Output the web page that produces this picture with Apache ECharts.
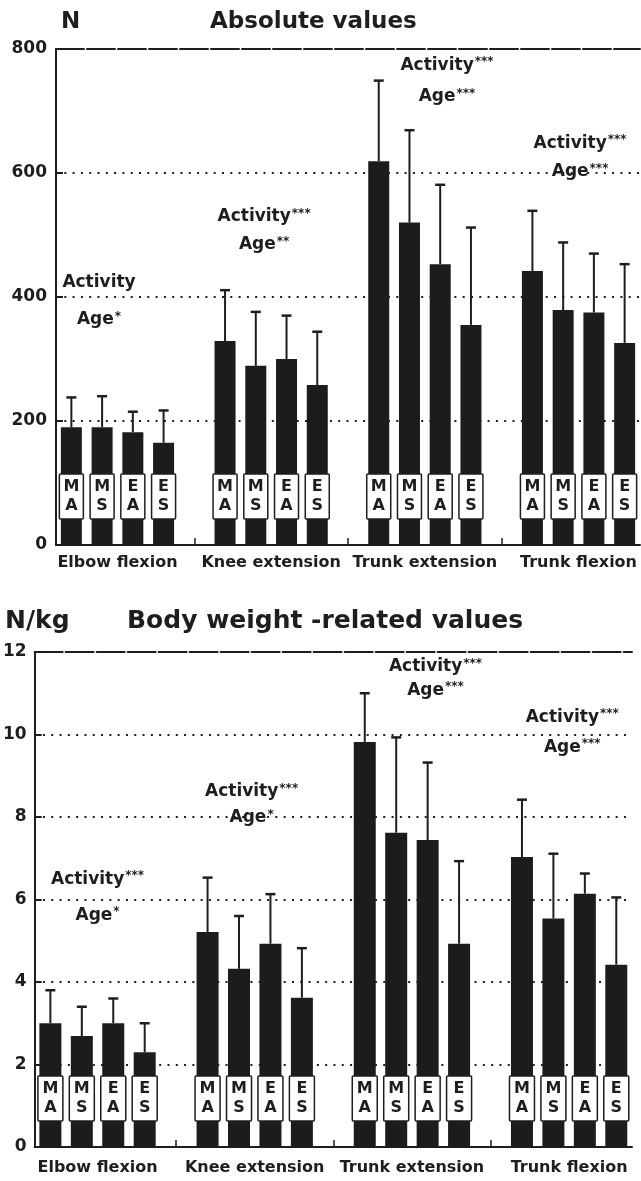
<!DOCTYPE html>
<html>
<head>
<meta charset="utf-8">
<script src="https://cdn.jsdelivr.net/npm/echarts@6/dist/echarts.min.js"></script>
<style>html,body{margin:0;padding:0;background:#fff}#c{width:641px;height:1181px}</style>
</head>
<body>
<div id="c"></div>
<script>
// ---- data ----
const categories = ['Elbow flexion', 'Knee extension', 'Trunk extension', 'Trunk flexion'];
const groupCodes = [['M', 'A'], ['M', 'S'], ['E', 'A'], ['E', 'S']];

// Absolute values (N): mean and mean+SD per category, groups MA, MS, EA, ES
const absMean = [[190, 190, 182, 165], [329, 289, 300, 258], [619, 520, 453, 355], [442, 379, 375, 326]];
const absSDTop = [[238, 240, 215, 217], [411, 376, 370, 344], [749, 669, 581, 512], [539, 488, 470, 453]];
const absTicks = [0, 200, 400, 600, 800];

// Body weight-related values (N/kg)
const bwMean = [[3.0, 2.69, 3.0, 2.3], [5.21, 4.32, 4.93, 3.62], [9.82, 7.62, 7.44, 4.93], [7.03, 5.54, 6.14, 4.42]];
const bwSDTop = [[3.8, 3.4, 3.6, 3.0], [6.53, 5.6, 6.13, 4.82], [11.0, 9.93, 9.32, 6.93], [8.42, 7.11, 6.63, 6.05]];
const bwTicks = [0, 2, 4, 6, 8, 10, 12];

// Significance annotations
const absActivity = ['Activity', 'Activity***', 'Activity***', 'Activity***'];
const absAge = ['Age*', 'Age**', 'Age***', 'Age***'];
const absNoteX = [1.4, 6.77, 12.72, 17.05];
const absNoteActY = [423, 529, 774, 648];
const absNoteAgeY = [363, 484, 723, 602];

const bwActivity = ['Activity***', 'Activity***', 'Activity***', 'Activity***'];
const bwAge = ['Age*', 'Age*', 'Age***', 'Age***'];
const bwNoteX = [2.0, 6.9, 12.75, 17.1];
const bwNoteActY = [6.49, 8.62, 11.65, 10.42];
const bwNoteAgeY = [5.62, 7.99, 11.07, 9.69];

// ---- helpers ----
const FONT = 'DejaVu Sans';
const INK = '#1e1e1e';
const SLOTS = 19; // 4 bars + 1 gap per category
function slotX(g, i) { return g * 5 + i + 0.5; }

function barData(mean) {
  const out = [];
  mean.forEach((arr, g) => arr.forEach((v, i) => out.push([slotX(g, i), v])));
  return out;
}
function errData(mean, top) {
  const out = [];
  mean.forEach((arr, g) => arr.forEach((v, i) => out.push([slotX(g, i), v, top[g][i]])));
  return out;
}
function boxData(mean) {
  const out = [];
  mean.forEach((arr, g) => arr.forEach((v, i) => out.push([slotX(g, i), i])));
  return out;
}
function noteData(xs, ys) {
  return xs.map((x, k) => [x, ys[k], k]);
}
function richNote(t) {
  const m = t.match(/^([^*]*)(\**)$/);
  return '{a|' + m[1] + '}' + (m[2] ? '{s|' + m[2] + '}' : '');
}

function xAxes(grid) {
  return [
    {
      gridIndex: grid, type: 'value', min: 0, max: SLOTS, position: 'bottom',
      splitLine: { show: false },
      axisLine: { show: true, onZero: false, lineStyle: { color: INK, width: 2 } },
      axisTick: { show: true, inside: true, length: 7, customValues: [4.5, 9.5, 14.5], lineStyle: { color: INK, width: 1.5 } },
      axisLabel: {
        customValues: [2, 7, 12, 17],
        formatter: v => categories[Math.round((v - 2) / 5)] || '',
        color: INK, fontFamily: FONT, fontWeight: 'bold', fontSize: 16, margin: grid === 0 ? 10 : 13
      }
    },
    {
      gridIndex: grid, type: 'value', min: 0, max: SLOTS, position: 'top',
      splitLine: { show: false }, axisTick: { show: false }, axisLabel: { show: false },
      axisLine: { show: true, onZero: false, lineStyle: { color: INK, width: 2, type: [28, 3] } }
    }
  ];
}
function yAxis(grid, ticks, margin) {
  return {
    gridIndex: grid, type: 'value', min: ticks[0], max: ticks[ticks.length - 1],
    interval: ticks[1] - ticks[0],
    axisLine: { show: true, onZero: false, lineStyle: { color: INK, width: 2 } },
    axisTick: { show: true, inside: true, length: 7, lineStyle: { color: INK, width: 2 } },
    axisLabel: { color: INK, fontFamily: FONT, fontWeight: 'bold', fontSize: 17, margin: margin },
    splitLine: { show: true, showMinLine: false, showMaxLine: false, lineStyle: { color: INK, width: 1.8, type: [2, 6.3] } }
  };
}

function errSeries(xi, yi, mean, top) {
  return {
    type: 'custom', xAxisIndex: xi, yAxisIndex: yi, z: 3,
    data: errData(mean, top),
    encode: { x: 0, y: [1, 2] },
    renderItem: (params, api) => {
      const x = api.value(0), m = api.value(1), t = api.value(2);
      const p0 = api.coord([x, m]), p1 = api.coord([x, t]);
      return {
        type: 'group', children: [
          { type: 'line', shape: { x1: p0[0], y1: p0[1], x2: p1[0], y2: p1[1] }, style: { stroke: INK, lineWidth: 2 } },
          { type: 'line', shape: { x1: p1[0] - 5, y1: p1[1], x2: p1[0] + 5, y2: p1[1] }, style: { stroke: INK, lineWidth: 2.5 } }
        ]
      };
    }
  };
}
function boxSeries(xi, yi, mean, w) {
  return {
    type: 'custom', xAxisIndex: xi, yAxisIndex: yi, z: 4,
    data: boxData(mean),
    encode: { x: 0 },
    renderItem: (params, api) => {
      const x = api.value(0), code = groupCodes[api.value(1)];
      const p = api.coord([x, 0]);
      return {
        type: 'group', children: [
          { type: 'rect', shape: { x: p[0] - w / 2, y: p[1] - 71, width: w, height: 45, r: 1 }, style: { fill: '#fff', stroke: INK, lineWidth: 1.5 } },
          { type: 'text', style: { x: p[0], y: p[1] - 58, text: code[0], align: 'center', verticalAlign: 'middle', fill: INK, font: 'bold 16px "DejaVu Sans"' } },
          { type: 'text', style: { x: p[0], y: p[1] - 39, text: code[1], align: 'center', verticalAlign: 'middle', fill: INK, font: 'bold 16px "DejaVu Sans"' } }
        ]
      };
    }
  };
}
function noteSeries(xi, yi, xs, ys, texts) {
  return {
    type: 'custom', xAxisIndex: xi, yAxisIndex: yi, z: 5,
    data: noteData(xs, ys),
    encode: { x: 0, y: 1 },
    renderItem: (params, api) => {
      const p = api.coord([api.value(0), api.value(1)]);
      return {
        type: 'text',
        style: {
          x: p[0], y: p[1], align: 'center', verticalAlign: 'middle',
          text: richNote(texts[api.value(2)]),
          rich: {
            a: { fontFamily: FONT, fontWeight: 'bold', fontSize: 17, fill: INK, color: INK },
            s: { fontFamily: FONT, fontWeight: 'bold', fontSize: 12, fill: INK, color: INK, verticalAlign: 'top', padding: [0, 0, 6, 1] }
          }
        }
      };
    }
  };
}

const titleStyle = { color: INK, fontFamily: FONT, fontWeight: 'bold', fontSize: 23 };
const title2Style = Object.assign({}, titleStyle, { fontSize: 25 });

const option = {
  animation: false,
  backgroundColor: '#fff',
  title: [
    { text: 'N', left: 56, top: 6, textStyle: titleStyle },
    { text: 'Absolute values', left: 205, top: 6, textStyle: titleStyle },
    { text: 'N/kg', left: 0, top: 604, textStyle: title2Style },
    { text: 'Body weight -related values', left: 122, top: 604, textStyle: title2Style }
  ],
  grid: [
    { left: 56, right: 1, top: 49, height: 496 },
    { left: 33, right: 9, top: 652, height: 495 }
  ],
  xAxis: xAxes(0).concat(xAxes(1)),
  yAxis: [
    yAxis(0, absTicks, 9),
    yAxis(1, bwTicks, 8),
    { gridIndex: 1, type: 'value', position: 'right', min: 0, max: 12, axisLine: { show: true, lineStyle: { color: INK, width: 2 } }, axisTick: { show: false }, axisLabel: { show: false }, splitLine: { show: false } }
  ],
  series: [
    { type: 'bar', xAxisIndex: 0, yAxisIndex: 0, barWidth: 21, itemStyle: { color: '#1c1c1c' }, data: barData(absMean), z: 2 },
    errSeries(0, 0, absMean, absSDTop),
    boxSeries(0, 0, absMean, 24),
    noteSeries(0, 0, absNoteX, absNoteActY, absActivity),
    noteSeries(0, 0, absNoteX, absNoteAgeY, absAge),

    { type: 'bar', xAxisIndex: 2, yAxisIndex: 1, barWidth: 22, itemStyle: { color: '#1c1c1c' }, data: barData(bwMean), z: 2 },
    errSeries(2, 1, bwMean, bwSDTop),
    boxSeries(2, 1, bwMean, 25),
    noteSeries(2, 1, bwNoteX, bwNoteActY, bwActivity),
    noteSeries(2, 1, bwNoteX, bwNoteAgeY, bwAge)
  ]
};

const chart = echarts.init(document.getElementById('c'), null, { renderer: 'canvas' });
chart.setOption(option);
</script>
</body>
</html>
